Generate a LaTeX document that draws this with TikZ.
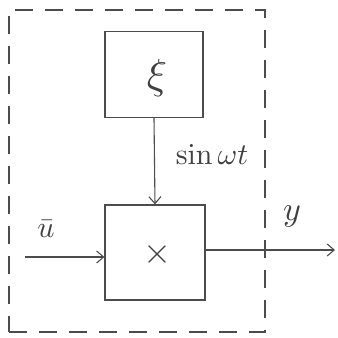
\documentclass[tikz,border=0pt]{standalone}
\usetikzlibrary{arrows.meta}
\begin{document}
\begin{tikzpicture}[x=1pt,y=1pt,
  ink/.style={draw=black!70, line width=1.1pt},
  blockbox/.style={ink, minimum width=98pt, minimum height=88pt, inner sep=0pt},
  flow/.style={ink, -{Straight Barb[length=7pt,width=12pt,line width=1.1pt]}},
  lbl/.style={text=black!75, inner sep=0pt}]
\useasboundingbox (0,0) rectangle (338,338);
\node[ink, dashed, dash pattern=on 18pt off 12pt, minimum width=256pt, minimum height=322pt, inner sep=0pt] (frame) at (137,167) {};
\node[blockbox, minimum height=86pt] (xi) at (154,263.5) {};
\node[lbl] (xit) at (157,260) {\scalebox{4.2}{$\xi$}};
\node[blockbox, minimum width=100pt, minimum height=95pt] (mul) at (155,85.5) {};
\node[lbl] (mult) at (157,83) {\scalebox{3.6}{$\times$}};
\coordinate (in) at (25,81);
\coordinate (out) at (335,88);
\draw[flow] (xi.south) -- (mul.north);
\draw[flow] (in) -- (mul.west |- in);
\draw[flow] (mul.east |- out) -- (out);
\node[lbl] (s) at (212,184) {\scalebox{3}{$\sin\omega t$}};
\node[lbl] (u) at (46,109) {\scalebox{3}{$\bar{u}$}};
\node[lbl] (y) at (292,122) {\scalebox{3.4}{$y$}};
\end{tikzpicture}
\end{document}
